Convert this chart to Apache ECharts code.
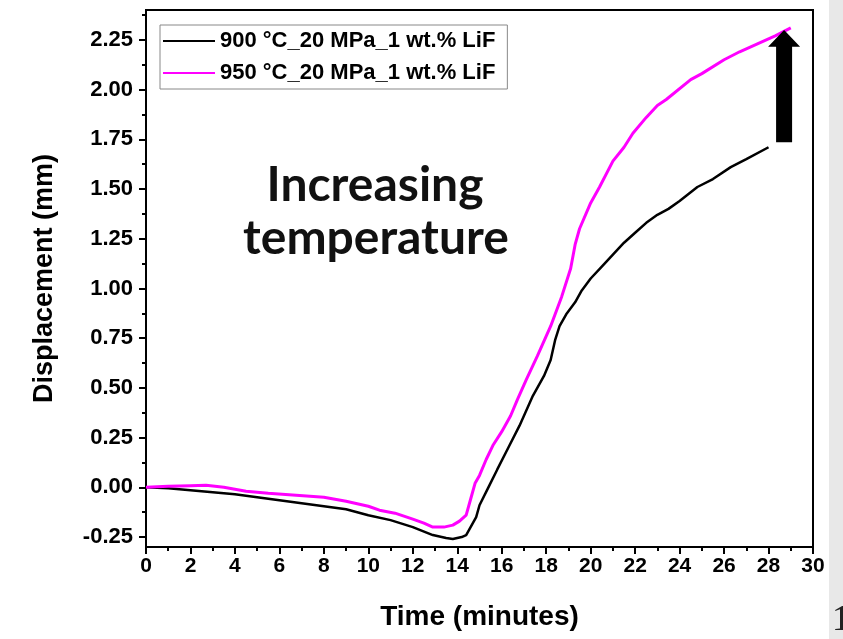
<!DOCTYPE html>
<html>
<head>
<meta charset="utf-8">
<script src="https://cdn.jsdelivr.net/npm/echarts@6/dist/echarts.min.js"></script>
<style>
  html, body { margin: 0; padding: 0; background: #fff; }
  #main { width: 843px; height: 639px; }
</style>
</head>
<body>
<div id="main"></div>
<script>
// 900 °C run (black)
var time900 = [0, 1, 2, 3, 4, 5, 6, 7, 8, 9, 10, 11, 12, 12.9, 13.5, 13.8, 14.2, 14.4, 14.6, 14.85,
  15.0, 15.4, 15.8, 16.3, 16.8, 17.4, 17.9, 18.2, 18.4, 18.6, 18.9, 19.3, 19.6, 20.0, 20.5, 21.0,
  21.5, 22.0, 22.5, 23.0, 23.5, 24.0, 24.8, 25.5, 26.3, 27.0, 28.0];
var disp900 = [0.00, -0.005, -0.015, -0.025, -0.035, -0.05, -0.065, -0.08, -0.095, -0.11, -0.14, -0.165, -0.20, -0.24, -0.255, -0.26, -0.25, -0.24, -0.20, -0.15,
  -0.09, 0.00, 0.09, 0.20, 0.31, 0.46, 0.56, 0.64, 0.74, 0.81, 0.87, 0.93, 0.99, 1.05, 1.11, 1.17,
  1.23, 1.28, 1.33, 1.37, 1.40, 1.44, 1.51, 1.55, 1.61, 1.65, 1.71];

// 950 °C run (magenta)
var time950 = [0, 1, 2, 2.7, 3.5, 4.5, 5.5, 6.75, 8, 9, 10, 10.5, 11.2, 12, 12.5, 12.9, 13.4, 13.8, 14.1, 14.4,
  14.6, 14.8, 15.0, 15.3, 15.6, 16.0, 16.4, 16.7, 17.1, 17.6, 18.2, 18.7, 19.1, 19.3, 19.5, 20.0, 20.4,
  21.0, 21.5, 21.9, 22.5, 23.0, 23.4, 24.5, 25.0, 26.0, 26.7, 27.5, 28.3, 29.0];
var disp950 = [0.00, 0.005, 0.008, 0.01, 0.00, -0.02, -0.03, -0.04, -0.05, -0.07, -0.095, -0.115, -0.13, -0.16, -0.18, -0.20, -0.20, -0.19, -0.17, -0.14,
  -0.06, 0.02, 0.06, 0.14, 0.21, 0.28, 0.36, 0.44, 0.54, 0.66, 0.81, 0.96, 1.10, 1.22, 1.30, 1.43, 1.51,
  1.64, 1.71, 1.78, 1.86, 1.92, 1.95, 2.05, 2.08, 2.15, 2.19, 2.23, 2.27, 2.31];

var seriesNames = ['900 °C_20 MPa_1 wt.% LiF', '950 °C_20 MPa_1 wt.% LiF'];
var yMajor = [-0.25, 0, 0.25, 0.5, 0.75, 1, 1.25, 1.5, 1.75, 2, 2.25];
var yMinor = [-0.125, 0.125, 0.375, 0.625, 0.875, 1.125, 1.375, 1.625, 1.875, 2.125, 2.375];

// arrow annotation (time, bottom, head base, tip)
var arrowAt = [28.7, 1.735, 2.215, 2.30];

function pairs(xs, ys) {
  var out = [];
  for (var i = 0; i < xs.length; i++) out.push([xs[i], ys[i]]);
  return out;
}

var chart = echarts.init(document.getElementById('main'));
var font = '"Liberation Sans", Arial, sans-serif';

var option = {
  animation: false,
  backgroundColor: '#fff',
  grid: {
    left: 146, right: 30, top: 10, bottom: 92,
    show: true, borderColor: '#000', borderWidth: 2
  },
  legend: {
    orient: 'vertical',
    left: 160, top: 25,
    data: seriesNames,
    icon: 'rect',
    itemWidth: 52, itemHeight: 2,
    itemGap: 10,
    padding: [5, 12, 5, 3],
    borderColor: '#888', borderWidth: 1,
    backgroundColor: '#fff',
    textStyle: { fontFamily: font, fontWeight: 'bold', fontSize: 22, color: '#000', lineHeight: 22 }
  },
  xAxis: {
    type: 'value', min: 0, max: 30, interval: 2,
    name: 'Time (minutes)', nameLocation: 'middle', nameGap: 56,
    nameTextStyle: { fontFamily: font, fontWeight: 'bold', fontSize: 28, color: '#000' },
    axisLine: { onZero: false, lineStyle: { color: '#000', width: 2 } },
    axisTick: { length: 7, lineStyle: { color: '#000', width: 2 } },
    minorTick: { show: true, splitNumber: 2, length: 4, lineStyle: { color: '#000', width: 2 } },
    axisLabel: { fontFamily: font, fontWeight: 'bold', fontSize: 21, color: '#000', margin: 9 },
    splitLine: { show: false }
  },
  yAxis: [{
    type: 'value', min: -0.3, max: 2.4,
    name: 'Displacement (mm)', nameLocation: 'middle', nameGap: 88,
    nameTextStyle: { fontFamily: font, fontWeight: 'bold', fontSize: 27, color: '#000' },
    axisLine: { onZero: false, lineStyle: { color: '#000', width: 2 } },
    axisTick: { length: 7, customValues: yMajor, lineStyle: { color: '#000', width: 2 } },
    axisLabel: {
      customValues: yMajor, fontFamily: font, fontWeight: 'bold', fontSize: 22, color: '#000', margin: 13,
      formatter: function (v) { return v.toFixed(2); }
    },
    splitLine: { show: false }
  }, {
    type: 'value', min: -0.3, max: 2.4, position: 'left',
    axisLine: { show: false },
    axisTick: { length: 4, customValues: yMinor, lineStyle: { color: '#000', width: 2 } },
    axisLabel: { show: false },
    splitLine: { show: false }
  }],
  series: [{
    name: seriesNames[0], type: 'line', showSymbol: false,
    data: pairs(time900, disp900),
    lineStyle: { color: '#000', width: 2.5 }, itemStyle: { color: '#000' }
  }, {
    name: seriesNames[1], type: 'line', showSymbol: false,
    data: pairs(time950, disp950),
    lineStyle: { color: '#ff00ff', width: 3 }, itemStyle: { color: '#ff00ff' }
  }]
};
chart.setOption(option);

// annotations: arrow placed from data coordinates, text, slide edge
var base = chart.convertToPixel({ xAxisIndex: 0, yAxisIndex: 0 }, [arrowAt[0], arrowAt[1]]);
var neck = chart.convertToPixel({ xAxisIndex: 0, yAxisIndex: 0 }, [arrowAt[0], arrowAt[2]]);
var tip = chart.convertToPixel({ xAxisIndex: 0, yAxisIndex: 0 }, [arrowAt[0], arrowAt[3]]);
var cx = base[0];

chart.setOption({
  graphic: [{
    type: 'polygon', z: 100,
    shape: { points: [
      [cx - 8, base[1]], [cx - 8, neck[1]], [cx - 16, neck[1]], [cx, tip[1]],
      [cx + 16, neck[1]], [cx + 8, neck[1]], [cx + 8, base[1]]
    ] },
    style: { fill: '#000' }
  }, {
    type: 'text', z: 100, x: 375, y: 162,
    style: { text: 'Increasing', font: 'bold 48px Lato, "Open Sans", sans-serif', fill: '#111', textAlign: 'center' }
  }, {
    type: 'text', z: 100, x: 376, y: 215,
    style: { text: 'temperature', font: 'bold 48px Lato, "Open Sans", sans-serif', fill: '#111', textAlign: 'center' }
  }, {
    type: 'rect', z: 1, shape: { x: 829, y: 0, width: 14, height: 639 },
    style: { fill: '#e8e8e8' }
  }, {
    type: 'text', z: 2, x: 832, y: 603,
    style: { text: '1', font: '36px "Liberation Serif", serif', fill: '#222' }
  }]
});
</script>
</body>
</html>
